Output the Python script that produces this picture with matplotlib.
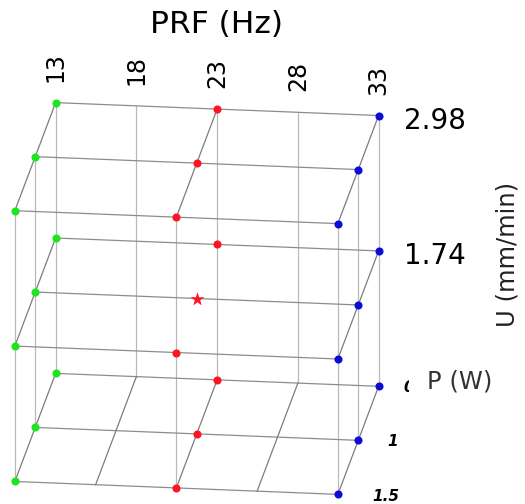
import numpy as np
import matplotlib
matplotlib.use("Agg")
import matplotlib.pyplot as plt
from mpl_toolkits.mplot3d import proj3d

# design levels
prf_levels = [13, 23, 33]
prf_ticks = [13, 18, 23, 28, 33]
p_levels = [0.5, 1, 1.5]
u_levels = [0.5, 1.74, 2.98]
u_tick_labels = ["2.98", "1.74"]
u_tick_values = [2.98, 1.74]
p_tick_labels = ["0.5", "1", "1.5"]
level_colors = ["#1ee61e", "#ff1424", "#0c0cd8"]
center = (23, 1, 1.74)

# lattice lines that are drawn in the picture
depth_prf = [13, 13, 13, 23, 23, 33, 33, 33, 18, 28]
depth_u = [0.5, 1.74, 2.98, 0.5, 2.98, 0.5, 1.74, 2.98, 0.5, 0.5]
vert_prf = [13, 18, 23, 28, 33, 13, 33, 13, 23, 33]
vert_p = [0.5, 0.5, 0.5, 0.5, 0.5, 1, 1, 1.5, 1.5, 1.5]

fig = plt.figure(figsize=(5.25, 5.04), dpi=100)
W = 460.0
Z = 531.5 / W
cx, cy = 196.75, 504 - 298.5
f = 0.095 / 0.185
ax = fig.add_axes([(cx - f * W) / 525, (cy - f * W) / 504, W / 525, W / 504],
                  projection="3d", proj_type="ortho", computed_zorder=False)
ax.view_init(elev=19, azim=-83)
ax.set_box_aspect((325, 334, 286), zoom=Z)
ax.set_axis_off()

# lines along PRF
for p in p_levels:
    for u in u_levels:
        ax.plot([prf_ticks[0], prf_ticks[-1]], [p, p], [u, u], color="#8c8c8c", lw=0.9, zorder=1)
# lines along P
for x, u in zip(depth_prf, depth_u):
    ax.plot([x, x], [p_levels[0], p_levels[-1]], [u, u], color="#7c7c7c", lw=0.9, zorder=1)
# vertical lines along U
for x, p in zip(vert_prf, vert_p):
    ax.plot([x, x], [p, p], [u_levels[0], u_levels[-1]], color="#bababa", lw=0.9, zorder=0)

# design points
for x, c in zip(prf_levels, level_colors):
    xs, ys, zs = [], [], []
    for p in p_levels:
        for u in u_levels:
            if (x, p, u) != center:
                xs.append(x); ys.append(p); zs.append(u)
    ax.scatter(xs, ys, zs, s=34, c=c, depthshade=False, linewidths=0, zorder=3)
ax.scatter([center[0]], [center[1]], [center[2]], s=110, marker="*", c=level_colors[1],
           depthshade=False, linewidths=0, zorder=3)

ax.set_xlim(13, 33)
ax.set_ylim(1.5, 0.5)
ax.set_zlim(0.5, 2.98)


def label(x, y, z, s, **kw):
    # project a 3D anchor point to the 2D coordinates of the axes
    X, Y, _ = proj3d.proj_transform(x, y, z, ax.get_proj())
    ax.text2D(X, Y, s, transform=ax.transData, **kw)


# tick labels
for t in prf_ticks:
    label(t, 0.5, 3.31, str(t), rotation=90, ha="center", va="center", fontsize=17)
for v, s in zip(u_tick_values, u_tick_labels):
    label(34.55, 0.5, v - 0.037, s, ha="left", va="center", fontsize=20)
p_label_x = [34.55, 35.1, 36.0]
p_label_ha = ["left", "center", "center"]
for p, s, x, ha in zip(p_levels, p_tick_labels, p_label_x, p_label_ha):
    label(x, p, 0.5, s, ha=ha, va="center", fontsize=11, fontweight="bold", style="italic")

fig.text(216.5 / 525, 1 - 33 / 504, "PRF (Hz)", ha="center", va="baseline", fontsize=22.5)
fig.text(508 / 525, 1 - 254 / 504, "U (mm/min)", rotation=90, ha="center", va="center",
         fontsize=17.5, color="#222222")
fig.text(459.5 / 525, 1 - 381 / 504, "P (W)", ha="center", va="center", fontsize=17.5,
         color="#333333", bbox=dict(boxstyle="square,pad=0.75", fc="white", ec="none"))

fig.savefig("out.png", dpi=100)
